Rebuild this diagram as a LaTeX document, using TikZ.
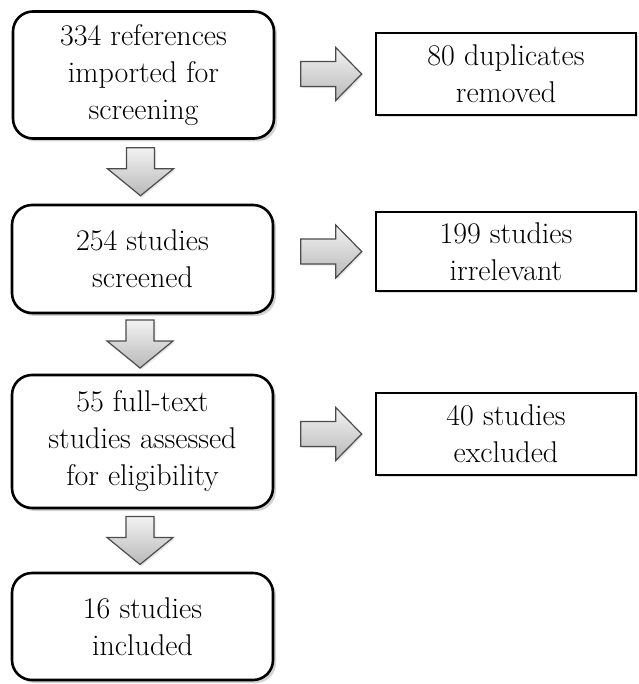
\documentclass[tikz,border=0pt]{standalone}
\usetikzlibrary{positioning,calc,shadows}
\tikzset{every picture/.style={line width=0.75pt}}

\begin{document}
\begin{tikzpicture}[x=0.5pt,y=-0.5pt,align=center,font=\fontsize{15}{18.5}\selectfont,
    stage/.style={draw,line width=1.3pt,rounded corners=10pt,fill=white,minimum width=130.5pt,
        drop shadow={shadow xshift=1.5pt,shadow yshift=-1.5pt,opacity=0.35}},
    outbox/.style={draw,line width=1.3pt,fill=white,minimum width=130pt,minimum height=41pt,
        drop shadow={shadow xshift=1pt,shadow yshift=-1pt,opacity=0.25}},
    blockarrow/.style={draw=black!70,line width=0.6pt,top color=gray!10,bottom color=gray!55,
        drop shadow={opacity=0.2,shadow xshift=0.8pt,shadow yshift=-0.8pt}}]
    \useasboundingbox (0,0) rectangle (638,684);
    % left column
    \node[stage,minimum height=63.5pt] (imported) at (143.5,75) {334 references\\imported for\\screening};
    \node[stage,minimum height=54pt] (screened) at (142.5,259) {254 studies\\screened};
    \node[stage,minimum height=66.5pt] (assessed) at (142.5,441.5) {55 full-text\\studies assessed\\for eligibility};
    \node[stage,minimum height=53.5pt] (included) at (142.5,626.5) {16 studies\\included};
    % right column
    \node[outbox] (duplicates) at (506,74) {80 duplicates\\removed};
    \node[outbox,minimum height=39.5pt] (irrelevant) at (506,251.5) {199 studies\\irrelevant};
    \node[outbox] (excluded) at (506,434) {40 studies\\excluded};
    % block arrows
    \foreach \a/\b in {imported/screened,screened/assessed,assessed/included} {
        \coordinate (m) at ($(\a.south)!0.5!(\b.north)+(-2.5,0)$);
        \draw[blockarrow] ($(m)+(-14,-24)$) -- ++(28,0) -- ++(0,21) -- ++(19,0) -- ($(m)+(0,24)$)
            -- ($(m)+(-33,-3)$) -- ++(19,0) -- cycle;
    }
    \foreach \b in {duplicates,irrelevant,excluded} {
        \coordinate (m) at ($(\b.west)+(-43.5,0)$);
        \draw[blockarrow] ($(m)+(-30.5,-12.5)$) -- ++(35,0) -- ++(0,-14) -- ($(m)+(30.5,0)$)
            -- ($(m)+(4.5,26.5)$) -- ++(0,-14) -- ++(-35,0) -- cycle;
    }
\end{tikzpicture}
\end{document}
